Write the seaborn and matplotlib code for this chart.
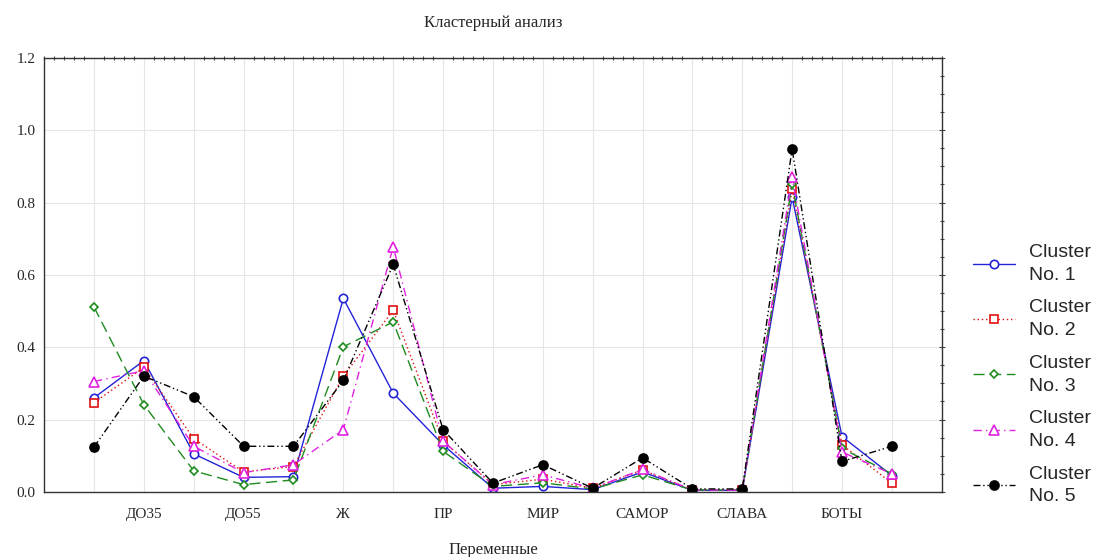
import numpy as np
import pandas as pd
import matplotlib.pyplot as plt
import seaborn as sns
from matplotlib.ticker import MultipleLocator

# 17 variables, only every second one is labelled on the axis
tick_labels = ["", "ДО35", "", "ДО55", "", "Ж", "", "ПР", "", "МИР", "",
               "САМОР", "", "СЛАВА", "", "БОТЫ", ""]

cluster_1 = [0.26, 0.363, 0.105, 0.04, 0.042, 0.535, 0.273, 0.13, 0.01, 0.015, 0.006,
             0.055, 0.004, 0.004, 0.815, 0.153, 0.045]
cluster_2 = [0.247, 0.344, 0.147, 0.055, 0.07, 0.32, 0.502, 0.14, 0.02, 0.035, 0.01,
             0.06, 0.005, 0.005, 0.837, 0.13, 0.024]
cluster_3 = [0.511, 0.241, 0.058, 0.02, 0.033, 0.401, 0.47, 0.112, 0.015, 0.025, 0.008,
             0.047, 0.005, 0.005, 0.85, 0.12, 0.05]
cluster_4 = [0.305, 0.335, 0.126, 0.053, 0.075, 0.172, 0.678, 0.14, 0.02, 0.047, 0.01,
             0.062, 0.005, 0.005, 0.87, 0.11, 0.05]
cluster_5 = [0.124, 0.32, 0.263, 0.126, 0.126, 0.308, 0.629, 0.172, 0.024, 0.075, 0.01,
             0.094, 0.008, 0.008, 0.948, 0.084, 0.126]

series = [cluster_1, cluster_2, cluster_3, cluster_4, cluster_5]
names = ["Cluster\nNo. 1", "Cluster\nNo. 2", "Cluster\nNo. 3", "Cluster\nNo. 4", "Cluster\nNo. 5"]
colors = ["#2323d8", "#e01010", "#1f8a1f", "#e020e0", "#000000"]
markers = ["o", "s", "D", "^", "o"]
faces = ["white", "white", "white", "white", "#000000"]
styles = ["-", (0, (1, 2)), (0, (8, 4)), (0, (6, 3, 1, 3)), (0, (5, 2, 1, 2, 1, 2))]
sizes = [6, 6, 4.5, 6.5, 6.5]

sns.set_style("white")
fig = plt.figure(figsize=(11.04, 5.57), dpi=100)
ax = fig.add_axes([0.04, 0.117, 0.813, 0.779])

for vals, name, col, mk, fc, ls, ms in zip(series, names, colors, markers, faces, styles, sizes):
    df = pd.DataFrame({"x": np.arange(len(vals)), "y": vals})
    sns.lineplot(data=df, x="x", y="y", ax=ax, color=col, marker=mk, markersize=ms,
                 markerfacecolor=fc, markeredgecolor=col, markeredgewidth=1.2,
                 linestyle=ls, linewidth=1.0, label=name)

ax.set_xlim(-1, 17)
ax.set_ylim(0, 1.2)
ax.set_xticks(np.arange(len(tick_labels)))
ax.set_xticklabels(tick_labels, family="Liberation Serif", fontsize=11)
ax.xaxis.set_minor_locator(MultipleLocator(0.2))
ax.yaxis.set_major_locator(MultipleLocator(0.2))
ax.yaxis.set_minor_locator(MultipleLocator(0.05))
ax.set_yticklabels([f"{t:.1f}" for t in ax.get_yticks()], family="Liberation Serif", fontsize=11)
ax.grid(True, which="major", color="#e6e6e6", linewidth=0.8)
ax.tick_params(which="both", direction="inout", top=True, right=True, length=5, width=0.8, color="#444444")
ax.tick_params(which="minor", length=3)
ax.tick_params(axis="x", which="major", length=0, pad=12)
for s in ax.spines.values():
    s.set_color("#333333")
    s.set_linewidth(1.0)

ax.set_title("Кластерный анализ", family="Liberation Serif", fontsize=12, pad=22)
ax.set_xlabel("Переменные", family="Liberation Serif", fontsize=12, labelpad=15)
ax.set_ylabel("")

leg = ax.legend(loc="center left", bbox_to_anchor=(1.015, 0.27), frameon=False,
                prop={"family": "Liberation Sans", "size": 14}, handlelength=2.2,
                handletextpad=0.7, labelspacing=0.8)
for t in leg.get_texts():
    t.set_linespacing(1.45)

fig.savefig("out.png", dpi=100)
